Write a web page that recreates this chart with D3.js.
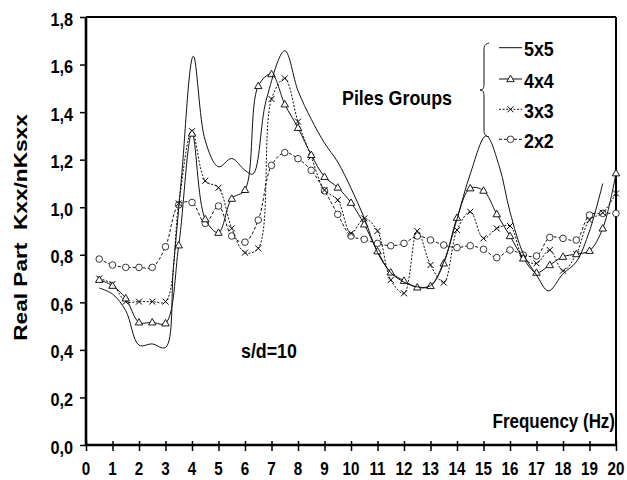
<!DOCTYPE html>
<html>
<head>
<meta charset="utf-8">
<script src="https://cdn.jsdelivr.net/npm/d3@7/dist/d3.min.js"></script>
<style>
  html, body { margin: 0; padding: 0; background: #fff; }
  svg { display: block; }
  text { font-family: "Liberation Sans", Arial, sans-serif; font-weight: bold; fill: #000; }
</style>
</head>
<body>
<svg id="chart" width="627" height="480"></svg>
<script>
// Frequency grid (Hz) shared by the marked series
const freq = [0.5,1,1.5,2,2.5,3,3.5,4,4.5,5,5.5,6,6.5,7,7.5,8,8.5,9,9.5,10,
              10.5,11,11.5,12,12.5,13,13.5,14,14.5,15,15.5,16,16.5,17,17.5,18,18.5,19,19.5,20];

// 5x5 group: unmarked smooth curve with its own sampling
const freq5x5 = [0.5,1,1.5,2,2.5,3,3.3,3.6,4.05,4.5,5,5.5,6,6.3,6.8,7.5,8,8.5,9,9.5,10,
                 10.5,11,11.5,12,12.5,13,13.5,14,14.5,15.1,15.6,16,16.5,17,17.45,18,18.5,19,19.5];
const real5x5 = [0.66,0.635,0.565,0.42,0.425,0.41,0.75,1.12,1.635,1.28,1.17,1.205,1.155,1.14,1.45,1.658,1.49,1.37,1.27,1.19,1.08,
                 0.955,0.81,0.725,0.685,0.665,0.67,0.77,0.95,1.14,1.3,1.17,0.98,0.805,0.715,0.648,0.72,0.77,0.9,1.1];

const real4x4 = [0.695,0.67,0.617,0.516,0.516,0.512,0.84,1.31,0.95,0.893,1.036,1.073,1.51,1.56,1.433,1.334,1.22,1.128,1.083,1.019,
                 0.928,0.815,0.726,0.691,0.663,0.669,0.764,0.956,1.08,1.07,0.971,0.879,0.785,0.725,0.757,0.792,0.803,0.817,0.911,1.143];

const real3x3 = [0.70,0.677,0.603,0.603,0.603,0.603,1.016,1.32,1.111,1.082,0.911,0.809,0.827,1.455,1.542,1.36,1.212,1.072,1.03,0.89,
                 0.953,0.90,0.694,0.638,0.90,0.757,0.683,0.904,0.981,0.869,0.911,0.921,0.785,0.764,0.82,0.733,0.803,0.946,0.977,1.058];

const real2x2 = [0.782,0.757,0.747,0.747,0.747,0.834,1.01,1.02,0.932,1.005,0.879,0.853,0.946,1.176,1.23,1.204,1.155,1.069,0.97,0.879,
                 0.865,0.848,0.838,0.848,0.879,0.862,0.841,0.83,0.838,0.823,0.788,0.82,0.799,0.795,0.873,0.869,0.862,0.967,0.974,0.974];

const xTicks = d3.range(0, 21, 1);
const yTicks = [0,0.2,0.4,0.6,0.8,1.0,1.2,1.4,1.6,1.8];
const legendLabels = ["5x5","4x4","3x3","2x2"];

const svg = d3.select("#chart");
const x = d3.scaleLinear().domain([0, 20]).range([86, 616]);
const y = d3.scaleLinear().domain([0, 1.8]).range([445, 17]);
const fmt = v => d3.format(".1f")(v).replace(".", ",");

// Narrow bold lettering
function label(g, txt, px, py, size, sx, anchor) {
  return g.append("text")
    .attr("transform", `translate(${px},${py}) scale(${sx},1)`)
    .attr("text-anchor", anchor || "start")
    .style("font-size", size + "px")
    .text(txt);
}

// Frame (top and right)
svg.append("line").attr("x1", x(0)).attr("x2", x(20)).attr("y1", y(1.8)).attr("y2", y(1.8))
  .attr("stroke", "#000").attr("stroke-width", 2);
svg.append("line").attr("x1", x(20)).attr("x2", x(20)).attr("y1", y(1.8)).attr("y2", y(0))
  .attr("stroke", "#000").attr("stroke-width", 2);

// Y axis
const yAxis = svg.append("g").attr("transform", `translate(${x(0)},0)`)
  .call(d3.axisLeft(y).tickValues(yTicks).tickSize(6).tickFormat(""));
yAxis.select(".domain").attr("stroke-width", 2.6).attr("d", `M0,${y(1.8)}V${y(0)}`);
yAxis.selectAll(".tick line").attr("stroke-width", 1.5);
yTicks.forEach(v => label(svg, fmt(v), 73, y(v) + 8.5, 18.5, 0.88, "end"));

// X axis with ticks crossing the line
const xAxis = svg.append("g").attr("transform", `translate(0,${y(0)})`)
  .call(d3.axisBottom(x).tickValues(xTicks).tickSize(6).tickFormat(""));
xAxis.select(".domain").attr("stroke-width", 2.6).attr("d", `M${x(0)},0H${x(20)}`);
xAxis.selectAll(".tick line").attr("y1", -4).attr("y2", 6).attr("stroke-width", 1.5);
xTicks.forEach(v => label(svg, String(v), x(v), 475, 19, 0.8, "middle"));

// Axis titles and annotations
svg.append("text")
  .attr("transform", "translate(26.5,227.5) rotate(-90) scale(1.03,0.85)")
  .attr("text-anchor", "middle")
  .style("font-size", "22px")
  .attr("xml:space", "preserve")
  .text("Real Part  Kxx/nKsxx");
label(svg, "Frequency (Hz)", 615, 428, 19.5, 0.87, "end");
label(svg, "s/d=10", 241, 358, 20, 0.89, "start");
label(svg, "Piles Groups", 342, 105, 21, 0.85, "start");

// Series
const smooth = d3.curveCatmullRom.alpha(0.5);
const lineGen = d3.line().x(d => x(d[0])).y(d => y(d[1])).curve(smooth);
const zip = (xs, ys) => xs.map((f, i) => [f, ys[i]]);

const series = [
  { name: "5x5", pts: zip(freq5x5, real5x5), dash: null, marker: null },
  { name: "4x4", pts: zip(freq, real4x4), dash: null, marker: "triangle" },
  { name: "3x3", pts: zip(freq, real3x3), dash: "2,1.6", marker: "cross" },
  { name: "2x2", pts: zip(freq, real2x2), dash: "3,2", marker: "circle" }
];

function drawMarker(g, kind, cx, cy) {
  if (kind === "triangle") {
    g.append("path").attr("d", d3.symbol(d3.symbolTriangle, 24)())
      .attr("transform", `translate(${cx},${cy + 0.5})`)
      .attr("fill", "#fff").attr("stroke", "#000").attr("stroke-width", 0.9);
  } else if (kind === "circle") {
    g.append("circle").attr("cx", cx).attr("cy", cy).attr("r", 3.3)
      .attr("fill", "#fff").attr("stroke", "#222").attr("stroke-width", 0.9);
  } else if (kind === "cross") {
    g.append("path").attr("d", `M${cx-3},${cy-3}L${cx+3},${cy+3}M${cx-3},${cy+3}L${cx+3},${cy-3}`)
      .attr("stroke", "#000").attr("stroke-width", 1);
  }
}

series.slice().reverse().forEach(s => {
  const g = svg.append("g");
  g.append("path").datum(s.pts).attr("d", lineGen)
    .attr("fill", "none").attr("stroke", "#111").attr("stroke-width", 1)
    .attr("stroke-dasharray", s.dash);
  if (s.marker) s.pts.forEach(p => drawMarker(g, s.marker, x(p[0]), y(p[1])));
});

// Legend
const legendY = [47.7, 79, 109.3, 139.3];
series.forEach((s, i) => {
  const g = svg.append("g");
  g.append("line").attr("x1", 499).attr("x2", 522).attr("y1", legendY[i]).attr("y2", legendY[i])
    .attr("stroke", "#111").attr("stroke-width", 1).attr("stroke-dasharray", s.dash);
  if (s.marker) drawMarker(g, s.marker, 510.5, legendY[i]);
  label(g, legendLabels[i], 524, legendY[i] + 8.5, 21, 0.85, "start");
});

// Brace grouping the legend entries
svg.append("path")
  .attr("d", "M489,43 C485,44 484,46 484,50 L484,84 C484,88 483,90 480,90 C483,90 484,92 484,96 L484,130 C484,134 485,136 489,137")
  .attr("fill", "none").attr("stroke", "#111").attr("stroke-width", 1);
</script>
</body>
</html>
